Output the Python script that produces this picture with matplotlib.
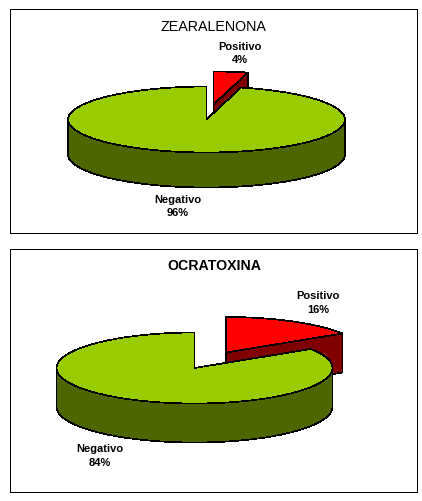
import numpy as np
import matplotlib
matplotlib.use("Agg")
import matplotlib.pyplot as plt
from matplotlib.patches import Polygon, Rectangle

plt.rcParams["font.family"] = ["Liberation Sans", "DejaVu Sans"]
plt.rcParams["patch.antialiased"] = False
plt.rcParams["patch.linewidth"] = 0.5

# values
titles = ["ZEARALENONA", "OCRATOXINA"]
slice_labels = ["Positivo", "Negativo"]
positivo = [4, 16]
negativo = [96, 84]

GREEN, GREEN_SIDE = "#99CC00", "#4D6600"
RED, RED_SIDE = "#FF0000", "#800000"


def arc(cx, cy, rx, ry, start, stop):
    # angles in degrees, clockwise from 12 o'clock
    t = np.radians(np.linspace(start, stop, 200))
    return np.column_stack([cx + rx * np.sin(t), cy - ry * np.cos(t)])


def draw_pie(ax, pos_pct, neg_pct, center, red_center, rx, ry, depth):
    cx, cy = center
    split = 360 * pos_pct / (pos_pct + neg_pct)
    down = np.array([0, depth])

    # exploded red slice goes first, the big slice hides part of it
    rcx, rcy = red_center
    apex = np.array([rcx, rcy])
    rim = arc(rcx, rcy, rx, ry, 0, split)
    ax.add_patch(Polygon([apex, rim[-1], rim[-1] + down, apex + down],
                         fc=RED_SIDE, ec="black"))
    ax.add_patch(Polygon(np.vstack([apex, rim]), fc=RED, ec="black"))

    # side wall of the big slice, front half of the rim only
    front = arc(cx, cy, rx, ry, 90, 270)
    ax.add_patch(Polygon(np.vstack([front, front[::-1] + down]),
                         fc=GREEN_SIDE, ec="black"))
    rim = arc(cx, cy, rx, ry, split, 360)
    ax.add_patch(Polygon(np.vstack([[cx, cy], rim]), fc=GREEN, ec="black"))


fig = plt.figure(figsize=(4.22, 5.02), dpi=100)
ax = fig.add_axes([0, 0, 1, 1])
ax.set_xlim(0, 422)
ax.set_ylim(502, 0)
ax.axis("off")

# first chart
ax.add_patch(Rectangle((9.5, 9.5), 407, 224, fc="white", ec="black"))
draw_pie(ax, positivo[0], negativo[0], (206.5, 120.5), (213.5, 105.5), 138.5, 33, 35)
ax.text(213, 27, titles[0], ha="center", va="center", fontsize=10.3)
ax.text(240, 53.5, f"{slice_labels[0]}\n{positivo[0]}%", ha="center", va="center",
        fontsize=8, fontweight="bold", linespacing=1.45)
ax.text(178, 206.5, f"{slice_labels[1]}\n{negativo[0]}%", ha="center", va="center",
        fontsize=8, fontweight="bold", linespacing=1.45)

# second chart
ax.add_patch(Rectangle((9.5, 249.5), 407, 243, fc="white", ec="black"))
draw_pie(ax, positivo[1], negativo[1], (194.5, 369), (226, 353.5), 138, 35.5, 39)
ax.text(214, 266.5, titles[1], ha="center", va="center", fontsize=10.2,
        fontweight="bold")
ax.text(318, 303, f"{slice_labels[0]}\n{positivo[1]}%", ha="center", va="center",
        fontsize=8, fontweight="bold", linespacing=1.45)
ax.text(100, 456, f"{slice_labels[1]}\n{negativo[1]}%", ha="center", va="center",
        fontsize=8, fontweight="bold", linespacing=1.45)

fig.savefig("out.png", dpi=100)
